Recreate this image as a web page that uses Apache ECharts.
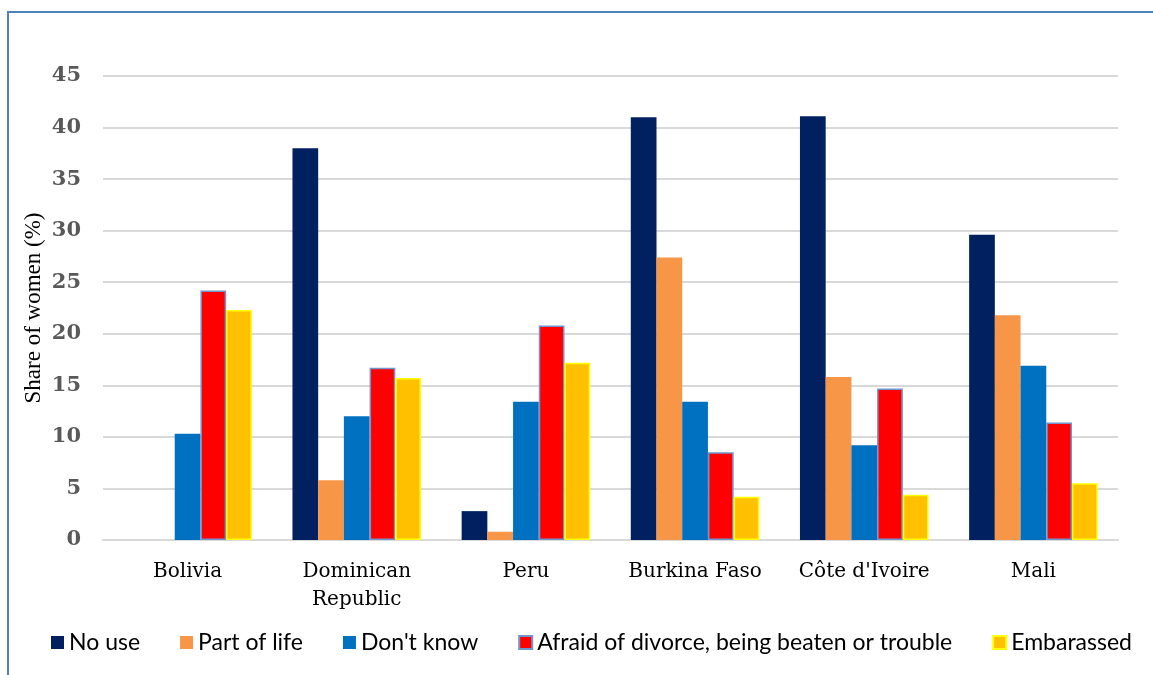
<!DOCTYPE html>
<html>
<head>
<meta charset="utf-8">
<script src="https://cdn.jsdelivr.net/npm/echarts@6/dist/echarts.min.js"></script>
<style>
html,body{margin:0;padding:0;background:#fff;}
#chart{width:1153px;height:675px;}
</style>
</head>
<body>
<div id="chart"></div>
<script>
const categories = ['Bolivia', 'Dominican\nRepublic', 'Peru', 'Burkina Faso', "Côte d'Ivoire", 'Mali'];
const noUse = [0, 38.0, 2.8, 41.0, 41.1, 29.6];
const partOfLife = [0, 5.8, 0.8, 27.4, 15.8, 21.8];
const dontKnow = [10.3, 12.0, 13.4, 13.4, 9.2, 16.9];
const afraid = [24.2, 16.7, 20.8, 8.5, 14.7, 11.4];
const embarassed = [22.3, 15.7, 17.2, 4.2, 4.4, 5.5];
const seriesNames = ['No use', 'Part of life', "Don't know", 'Afraid of divorce, being beaten or trouble', 'Embarassed'];
const yTicks = { min: 0, max: 45, interval: 5 };

const chart = echarts.init(document.getElementById('chart'));
const styles = [
  { color: '#002060' },
  { color: '#F79646' },
  { color: '#0070C0' },
  { color: '#FF0000', borderColor: '#7094CC', borderWidth: 1.5 },
  { color: '#FFC000', borderColor: '#FFFF00', borderWidth: 1.5 }
];
const dataSets = [noUse, partOfLife, dontKnow, afraid, embarassed];

chart.setOption({
  animation: false,
  graphic: [{
    type: 'rect',
    shape: { x: 8, y: 12, width: 1300, height: 800 },
    style: { fill: 'none', stroke: '#4F81BD', lineWidth: 2 },
    silent: true
  }],
  legend: {
    top: 626,
    left: 46,
    itemWidth: 13,
    itemHeight: 13,
    itemGap: 40,
    icon: 'rect',
    textStyle: { fontFamily: 'Lato', fontSize: 23, color: '#000' },
    data: seriesNames
  },
  grid: { left: 103, right: 35, top: 76, bottom: 135 },
  xAxis: {
    type: 'category',
    data: categories,
    axisTick: { show: false },
    axisLine: { lineStyle: { color: '#d9d9d9', width: 2 } },
    axisLabel: { interval: 0, fontFamily: 'DejaVu Serif', fontSize: 20, color: '#000', margin: 18, lineHeight: 28 }
  },
  yAxis: {
    type: 'value',
    min: yTicks.min,
    max: yTicks.max,
    interval: yTicks.interval,
    name: 'Share of women (%)',
    nameLocation: 'middle',
    nameGap: 58,
    nameMoveOverlap: false,
    nameTextStyle: { fontFamily: 'Liberation Serif', fontSize: 23, color: '#000' },
    axisLine: { show: false },
    axisTick: { show: false },
    splitLine: { lineStyle: { color: '#d9d9d9', width: 2 } },
    axisLabel: { fontFamily: 'DejaVu Serif', fontWeight: 'bold', fontSize: 21, color: '#595959', margin: 22 }
  },
  series: dataSets.map((d, i) => ({
    name: seriesNames[i],
    type: 'bar',
    data: d,
    barGap: '0%',
    barCategoryGap: '24%',
    itemStyle: styles[i]
  }))
});
</script>
</body>
</html>
